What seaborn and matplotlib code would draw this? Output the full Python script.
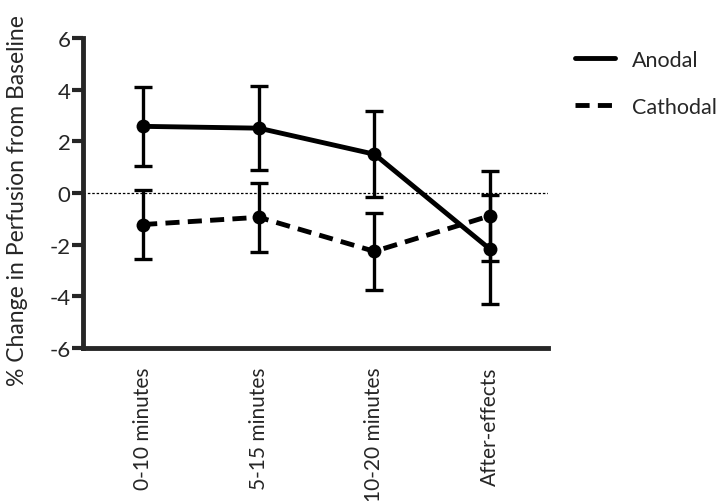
import matplotlib
matplotlib.use("Agg")
import matplotlib.pyplot as plt
import seaborn as sns
import pandas as pd
import numpy as np

categories = ["0-10 minutes", "5-15 minutes", "10-20 minutes", "After-effects"]
anodal_mean = [2.58, 2.51, 1.50, -2.18]
anodal_sem = [1.52, 1.62, 1.67, 2.10]
cathodal_mean = [-1.22, -0.94, -2.26, -0.88]
cathodal_sem = [1.34, 1.33, 1.49, 1.74]
series = ["Anodal", "Cathodal"]

sns.set_style("ticks")
plt.rcParams['font.family'] = ['Lato', 'DejaVu Sans']
plt.rcParams['axes.unicode_minus'] = False

rows = []
for i, c in enumerate(categories):
    rows.append({"pos": i, "cat": c, "value": anodal_mean[i], "err": anodal_sem[i], "group": "Anodal"})
    rows.append({"pos": i, "cat": c, "value": cathodal_mean[i], "err": cathodal_sem[i], "group": "Cathodal"})
df = pd.DataFrame(rows)

fig = plt.figure(figsize=(7.2, 5.02), dpi=100)
ax = fig.add_axes([83/720, 1 - 349/502, (548 - 83)/720, (349 - 39)/502])

ax.axhline(0, color="black", lw=0.9, ls=(0, (2, 1.5)), zorder=1)

sns.lineplot(data=df, x="pos", y="value", style="group", style_order=series,
             dashes={"Anodal": "", "Cathodal": (2.9, 1.7)}, color="black", lw=3.5,
             marker="o", markersize=10, markeredgewidth=0, ax=ax, legend=True, zorder=3)

for g in series:
    sub = df[df["group"] == g]
    ax.errorbar(sub["pos"], sub["value"], yerr=sub["err"], fmt="none", ecolor="black",
                elinewidth=2.4, capsize=6.5, capthick=2.4, zorder=2)

ax.set_xlim(-0.52, 3.5)
ax.set_ylim(-6, 6)
ax.set_yticks([-6, -4, -2, 0, 2, 4, 6])
ax.set_xticks(range(len(categories)))
ax.set_xticklabels(categories, rotation=90, fontsize=15)
ax.tick_params(axis="y", length=8, width=3, labelsize=16, pad=1)
ax.tick_params(axis="x", length=0, pad=13)
ax.set_xlabel("")
ax.set_ylabel("% Change in Perfusion from Baseline", fontsize=16.5)
ax.yaxis.set_label_coords(-0.118, 0.48)
for s in ["left", "bottom"]:
    ax.spines[s].set_linewidth(3.5)
sns.despine(ax=ax)

h, l = ax.get_legend_handles_labels()
for hh in h:
    hh.set_marker("")
leg = fig.legend(h, l, loc="upper left", bbox_to_anchor=(575/720, 1 - 51/502), frameon=False,
                 fontsize=15.5, handlelength=1.85, labelspacing=1.25, handletextpad=0.8,
                 borderpad=0, borderaxespad=0)
if ax.get_legend():
    ax.get_legend().remove()
for line in leg.get_lines():
    line.set_linewidth(3.5)

fig.savefig("out.png", dpi=100)
